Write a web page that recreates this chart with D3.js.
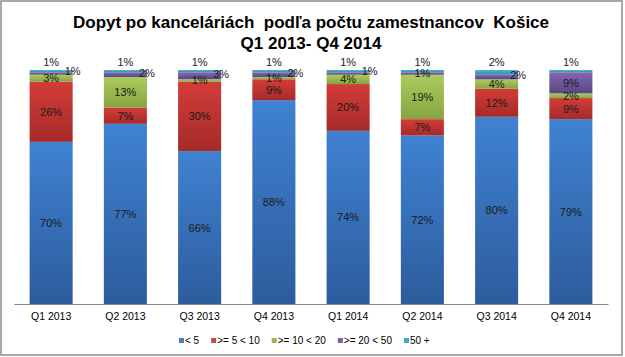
<!DOCTYPE html>
<html>
<head>
<meta charset="utf-8">
<script src="https://cdn.jsdelivr.net/npm/d3@7"></script>
<style>
  html, body { margin: 0; padding: 0; background: #fff; }
  svg { display: block; font-family: Arial, "Liberation Sans", sans-serif; }
</style>
</head>
<body>
<svg id="chart" width="625" height="357"></svg>
<script>
const categories = ["Q1 2013", "Q2 2013", "Q3 2013", "Q4 2013", "Q1 2014", "Q2 2014", "Q3 2014", "Q4 2014"];
const seriesNames = ["< 5", ">= 5 < 10", ">= 10 < 20", ">= 20 < 50", "50 +"];
const lt5      = [70, 77, 66, 88, 74, 72, 80, 79];
const s5to10   = [26,  7, 30,  9, 20,  7, 12,  9];
const s10to20  = [ 3, 13,  1,  1,  4, 19,  4,  2];
const s20to50  = [ 1,  2,  3,  2,  1,  1,  2,  9];
const s50plus  = [ 1,  1,  1,  1,  1,  1,  2,  1];
const purpleLabelPlacement = ["edge", "edge", "edge", "edge", "edge", "center", "edge", "center"];

const seriesValues = [lt5, s5to10, s10to20, s20to50, s50plus];
const colors = [
  { top: "#3f82d2", bottom: "#2d5c9c", legend: "#4a7ebb" },
  { top: "#d33c38", bottom: "#a52b28", legend: "#be4b48" },
  { top: "#abcb5e", bottom: "#86a541", legend: "#98b954" },
  { top: "#8567b2", bottom: "#574680", legend: "#7d60a0" },
  { top: "#52b6d2", bottom: "#3a87a0", legend: "#46aac5" }
];

const table = categories.map((c, i) => {
  const row = { cat: c };
  seriesNames.forEach((s, j) => row[s] = seriesValues[j][i]);
  return row;
});

const svg = d3.select("#chart");
const defs = svg.append("defs");
colors.forEach((c, j) => {
  const g = defs.append("linearGradient").attr("id", "grad" + j)
    .attr("x1", 0).attr("y1", 0).attr("x2", 0).attr("y2", 1);
  g.append("stop").attr("offset", "0%").attr("stop-color", c.top);
  g.append("stop").attr("offset", "100%").attr("stop-color", c.bottom);
});

// outer frame
svg.append("rect").attr("x", 1).attr("y", 1).attr("width", 621).attr("height", 354)
  .attr("fill", "#fff").attr("stroke", "#8c8c8c").attr("stroke-width", 1.5);

// title
const title = svg.append("text").attr("text-anchor", "middle")
  .attr("font-weight", "bold").attr("font-size", 17).attr("fill", "#000");
title.append("tspan").attr("x", 311).attr("y", 28).attr("xml:space", "preserve")
  .text("Dopyt po kanceláriách  podľa počtu zamestnancov  Košice");
title.append("tspan").attr("x", 311).attr("y", 49).text("Q1 2013- Q4 2014");

const x = d3.scaleBand().domain(categories).range([14, 608]).paddingInner(0.42).paddingOuter(0.21);
const y = d3.scaleLinear().domain([0, 1]).range([304, 70]);

const stack = d3.stack().keys(seriesNames).offset(d3.stackOffsetExpand);
const stacked = stack(table);

const layers = svg.append("g").selectAll("g").data(stacked).join("g")
  .attr("fill", (d, j) => `url(#grad${j})`);
layers.selectAll("rect").data(d => d).join("rect")
  .attr("x", d => x(d.data.cat))
  .attr("width", x.bandwidth())
  .attr("y", d => y(d[1]))
  .attr("height", d => y(d[0]) - y(d[1]));

// axis
const axis = svg.append("g").attr("transform", "translate(0,304)")
  .call(d3.axisBottom(x).tickSize(0).tickSizeOuter(0).tickPadding(9));
axis.select(".domain").attr("stroke", "#868686");
axis.selectAll("text").attr("font-size", 10.5).attr("fill", "#000")
  .attr("font-family", "Arial, 'Liberation Sans', sans-serif");

// value labels
const labelG = svg.append("g").attr("font-size", 11).attr("fill", "#1a1a1a").attr("text-anchor", "middle");
stacked.forEach((layer, j) => {
  layer.forEach((d, i) => {
    const v = seriesValues[j][i];
    let lx = x(d.data.cat) + x.bandwidth() / 2;
    let ly = (y(d[0]) + y(d[1])) / 2;
    if (j === 4) {
      ly = y(d[1]) - 8;
    } else if (j === 3 && purpleLabelPlacement[i] === "edge") {
      lx = x(d.data.cat) + x.bandwidth();
      ly = ly - 2;
    }
    labelG.append("text").attr("x", lx).attr("y", ly).attr("dy", "0.36em").text(v + "%");
  });
});

// legend
const legend = svg.append("g").attr("font-size", 10).attr("fill", "#000");
let lxPos = 179;
seriesNames.forEach((s, j) => {
  legend.append("rect").attr("x", lxPos).attr("y", 338).attr("width", 5).attr("height", 5)
    .attr("fill", colors[j].legend);
  const t = legend.append("text").attr("x", lxPos + 6).attr("y", 344).text(s);
  const w = t.node().getComputedTextLength();
  lxPos += 6 + w + 12;
});
</script>
</body>
</html>
